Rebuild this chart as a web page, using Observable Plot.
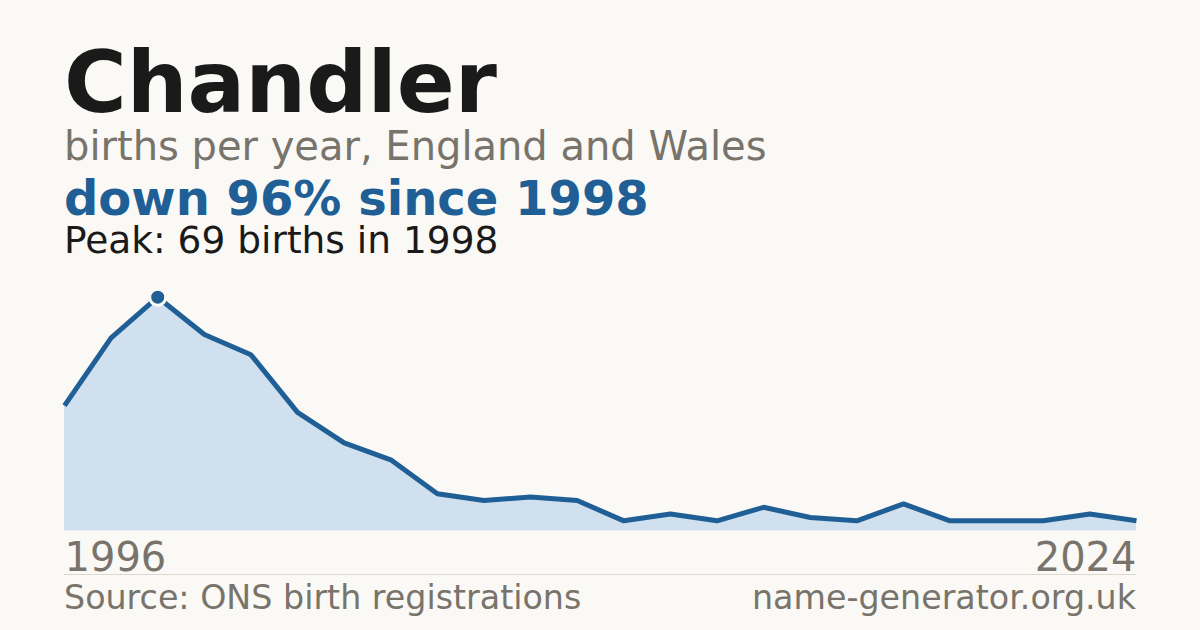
<!DOCTYPE html>
<html>
<head>
<meta charset="utf-8">
<script src="https://cdn.jsdelivr.net/npm/d3@7"></script>
<script src="https://cdn.jsdelivr.net/npm/@observablehq/plot@0.6"></script>
<style>
  html, body { margin: 0; padding: 0; background: #faf9f5; }
  body { width: 1200px; height: 630px; position: relative; overflow: hidden; font-family: "DejaVu Sans", sans-serif; }
  .t { position: absolute; left: 64px; line-height: 0.85; white-space: nowrap; }
  #title { top: 47px; font-size: 85.5px; font-weight: bold; color: #1a1a1a; }
  #sub { top: 129px; font-size: 40px; color: #78736b; }
  #change { top: 178px; font-size: 48px; font-weight: bold; color: #1f5f96; }
  #peak { top: 225px; font-size: 37.5px; color: #1a1a1a; }
  #chart { position: absolute; left: 0; top: 270px; width: 1200px; height: 310px; }
  #chart svg { display: block; width: 1200px; height: 310px; max-width: none; }
  #rule { position: absolute; left: 64px; width: 1072px; top: 574px; height: 1px; background: #dcd8d0; }
  #source { top: 584.3px; font-size: 33.3px; color: #78736b; }
  #site { top: 584.3px; font-size: 33.3px; color: #78736b; left: auto; right: 64px; }
</style>
</head>
<body>
<div class="t" id="title">Chandler</div>
<div class="t" id="sub">births per year, England and Wales</div>
<div class="t" id="change">down 96% since 1998</div>
<div class="t" id="peak">Peak: 69 births in 1998</div>
<div id="chart"></div>
<div id="rule"></div>
<div class="t" id="source">Source: ONS birth registrations</div>
<div class="t" id="site">name-generator.org.uk</div>
<script>
const years = [1996, 1997, 1998, 1999, 2000, 2001, 2002, 2003, 2004, 2005, 2006, 2007,
               2008, 2009, 2010, 2012, 2013, 2015, 2016, 2018, 2019, 2021, 2022, 2024];
const births = [37, 57, 69, 58, 52, 35, 26, 21, 11, 9, 10, 9,
                3, 5, 3, 7, 4, 3, 8, 3, 3, 3, 5, 3];
const peakYear = 1998;
const peakBirths = 69;
const tickLabels = ["1996", "2024"];

// x is the position of each recorded year in the sequence (evenly spaced, as in the source)
const data = years.map((year, i) => ({i, year, births: births[i]}));
const peak = data.filter(d => d.year === peakYear);
const last = years.length - 1;

const blue = "#1f5f96";
const chart = Plot.plot({
  width: 1200,
  height: 310,
  marginLeft: 64,
  marginRight: 64,
  marginTop: 26.7,
  marginBottom: 49.5,
  style: {background: "transparent", fontFamily: "DejaVu Sans, sans-serif", overflow: "visible"},
  x: {type: "linear", domain: [0, last], axis: null},
  y: {domain: [0, peakBirths], axis: null},
  marks: [
    Plot.areaY(data, {x: "i", y: "births", fill: "#d0e0ef"}),
    Plot.lineY(data, {x: "i", y: "births", stroke: blue, strokeWidth: 5, strokeLinejoin: "miter", strokeLinecap: "butt"}),
    Plot.dot(peak, {x: "i", y: "births", r: 8, fill: blue, stroke: "#faf9f5", strokeWidth: 3}),
    Plot.text([{i: 0, label: tickLabels[0]}], {x: "i", y: () => 0, text: "label", textAnchor: "start", lineAnchor: "bottom", dy: 40, fontSize: 40, fill: "#78736b"}),
    Plot.text([{i: last, label: tickLabels[1]}], {x: "i", y: () => 0, text: "label", textAnchor: "end", lineAnchor: "bottom", dy: 40, fontSize: 40, fill: "#78736b"})
  ]
});
document.getElementById("chart").appendChild(chart);
</script>
</body>
</html>
